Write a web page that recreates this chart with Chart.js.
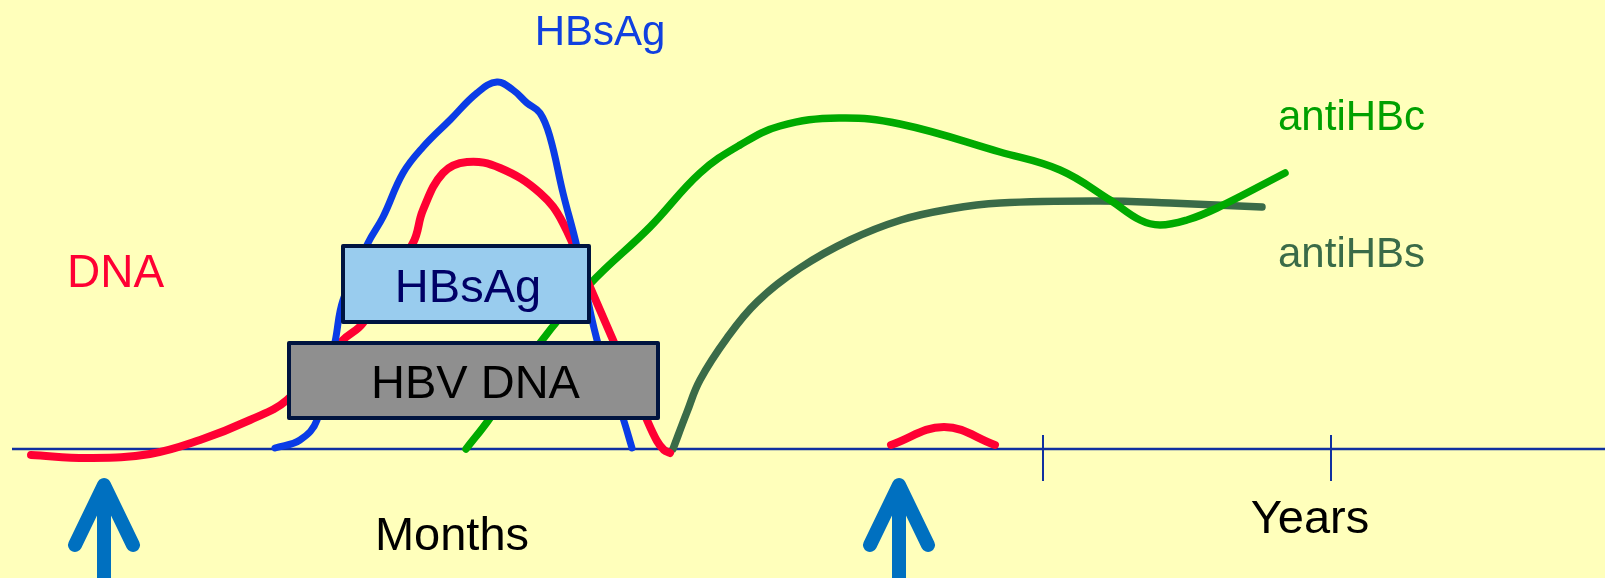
<!DOCTYPE html>
<html>
<head>
<meta charset="utf-8">
<script src="https://cdn.jsdelivr.net/npm/chart.js@4"></script>
<style>
  html, body { margin: 0; padding: 0; background: #FFFFBB; }
  #wrap { width: 1605px; height: 578px; }
</style>
</head>
<body>
<div id="wrap"><canvas id="c" width="1605" height="578"></canvas></div>
<script>
// time runs left to right (arbitrary units), level is height above the baseline
const dnaT   = [31, 89, 150, 200, 250, 287, 343, 363, 413, 423, 443, 467, 500, 540, 563, 590, 613, 647, 657, 664, 670];
const dnaL   = [-6, -9, -5, 9, 29, 49, 109, 126, 206, 239, 276, 287, 281, 256, 226, 162, 109, 29, 8, -1, -4];
const dna2T  = [891, 944, 995];
const dna2L  = [4, 22, 4];
const hbsT   = [275, 300, 317, 335, 343, 368, 383, 403, 423, 450, 477, 497, 513, 527, 540, 550, 563, 577, 597, 623, 632];
const hbsL   = [1, 9, 29, 107, 149, 206, 232, 276, 302, 329, 356, 367, 359, 346, 336, 312, 256, 202, 109, 31, 1];
const hbcT   = [466, 490, 540, 590, 650, 700, 740, 780, 839, 900, 1000, 1060, 1110, 1140, 1160, 1187, 1217, 1285];
const hbcL   = [0, 31, 106, 165, 222, 276, 304, 323, 331, 325, 297, 279, 249, 229, 224, 229, 241, 276];
const antiST = [673, 687, 700, 727, 757, 800, 850, 901, 950, 1000, 1100, 1170, 1262];
const antiSL = [0, 37, 69, 111, 147, 181, 209, 229, 240, 246, 248, 246, 242];

const yearTicks = [1043, 1331];
const arrowTimes = [104, 899];

// phases drawn as boxes
const phaseNames = ['HBsAg', 'HBV DNA'];
const phaseStart = [343, 289];
const phaseEnd   = [589, 658];
const phaseLow   = [127, 31];
const phaseHigh  = [203, 106];

function pts(xs, ys) {
  return xs.map((x, i) => ({ x: x, y: ys[i] }));
}

function curve(xs, ys, color, w) {
  return {
    data: pts(xs, ys),
    borderColor: color,
    borderWidth: w,
    borderCapStyle: 'round',
    borderJoinStyle: 'round',
    tension: 0.4,
    pointRadius: 0,
    fill: false
  };
}

const FONT = '"Liberation Sans", Arial, sans-serif';

const decor = {
  id: 'decor',
  beforeDraw(chart) {
    const ctx = chart.ctx;
    ctx.save();
    ctx.fillStyle = '#FFFFBB';
    ctx.fillRect(0, 0, chart.width, chart.height);
    ctx.restore();
  },
  beforeDatasetsDraw(chart) {
    const ctx = chart.ctx;
    const xs = chart.scales.x, ys = chart.scales.y;
    ctx.save();
    ctx.strokeStyle = '#1030A0';
    ctx.lineWidth = 2.5;
    ctx.beginPath();
    ctx.moveTo(xs.getPixelForValue(12), ys.getPixelForValue(0));
    ctx.lineTo(xs.getPixelForValue(1605), ys.getPixelForValue(0));
    ctx.stroke();
    ctx.lineWidth = 2;
    yearTicks.forEach(t => {
      ctx.beginPath();
      ctx.moveTo(xs.getPixelForValue(t), ys.getPixelForValue(14));
      ctx.lineTo(xs.getPixelForValue(t), ys.getPixelForValue(-32));
      ctx.stroke();
    });
    ctx.restore();
  },
  afterDatasetsDraw(chart) {
    const ctx = chart.ctx;
    const xs = chart.scales.x, ys = chart.scales.y;
    ctx.save();

    // phase boxes
    const fills = ['#99CCEE', '#8F8F8F'];
    const textCol = ['#000066', '#000000'];
    phaseNames.forEach((name, i) => {
      const x0 = xs.getPixelForValue(phaseStart[i]);
      const x1 = xs.getPixelForValue(phaseEnd[i]);
      const y0 = ys.getPixelForValue(phaseHigh[i]);
      const y1 = ys.getPixelForValue(phaseLow[i]);
      ctx.fillStyle = fills[i];
      ctx.strokeStyle = '#001440';
      ctx.lineWidth = 4;
      ctx.lineJoin = 'round';
      ctx.fillRect(x0, y0, x1 - x0, y1 - y0);
      ctx.strokeRect(x0, y0, x1 - x0, y1 - y0);
      ctx.fillStyle = textCol[i];
      ctx.font = '47px ' + FONT;
      ctx.textAlign = 'center';
      ctx.textBaseline = 'alphabetic';
      ctx.fillText(name, (x0 + x1) / 2 + 2, ys.getPixelForValue(phaseLow[i] + 20));
    });

    // labels
    const label = (txt, t, l, color, size, align) => {
      ctx.fillStyle = color;
      ctx.font = size + 'px ' + FONT;
      ctx.textAlign = align;
      ctx.textBaseline = 'alphabetic';
      ctx.fillText(txt, xs.getPixelForValue(t), ys.getPixelForValue(l));
    };
    label('HBsAg', 600, 404, '#1040E0', 42, 'center');
    label('DNA', 67, 162, '#FF0033', 46, 'left');
    label('antiHBc', 1278, 319, '#00A000', 42, 'left');
    label('antiHBs', 1278, 182, '#3A6B48', 42, 'left');
    label('Months', 452, -101, '#000000', 47, 'center');
    label('Years', 1310, -84, '#000000', 47, 'center');

    // arrows
    ctx.strokeStyle = '#0070C0';
    ctx.lineWidth = 14;
    ctx.lineCap = 'round';
    arrowTimes.forEach(t => {
      const x = xs.getPixelForValue(t);
      const tip = ys.getPixelForValue(-32);
      const wing = ys.getPixelForValue(-96);
      ctx.beginPath();
      ctx.moveTo(x - 29, wing);
      ctx.lineTo(x, tip + 4);
      ctx.lineTo(x + 29, wing);
      ctx.stroke();
      ctx.lineCap = 'butt';
      ctx.beginPath();
      ctx.moveTo(x, tip + 8);
      ctx.lineTo(x, chart.height + 5);
      ctx.stroke();
      ctx.lineCap = 'round';
    });
    ctx.restore();
  }
};

new Chart(document.getElementById('c'), {
  type: 'line',
  data: {
    datasets: [
      curve(hbsT, hbsL, '#0A3CE6', 7),
      curve(dnaT, dnaL, '#FF0033', 8),
      curve(dna2T, dna2L, '#FF0033', 8),
      curve(hbcT, hbcL, '#00AA00', 7.5),
      curve(antiST, antiSL, '#3A6B48', 7.5)
    ]
  },
  options: {
    responsive: false,
    devicePixelRatio: 1,
    animation: false,
    layout: { padding: 0 },
    scales: {
      x: { type: 'linear', min: 0, max: 1605, display: false },
      y: { type: 'linear', min: -129, max: 449, display: false }
    },
    plugins: { legend: { display: false }, tooltip: { enabled: false } }
  },
  plugins: [decor]
});
</script>
</body>
</html>
